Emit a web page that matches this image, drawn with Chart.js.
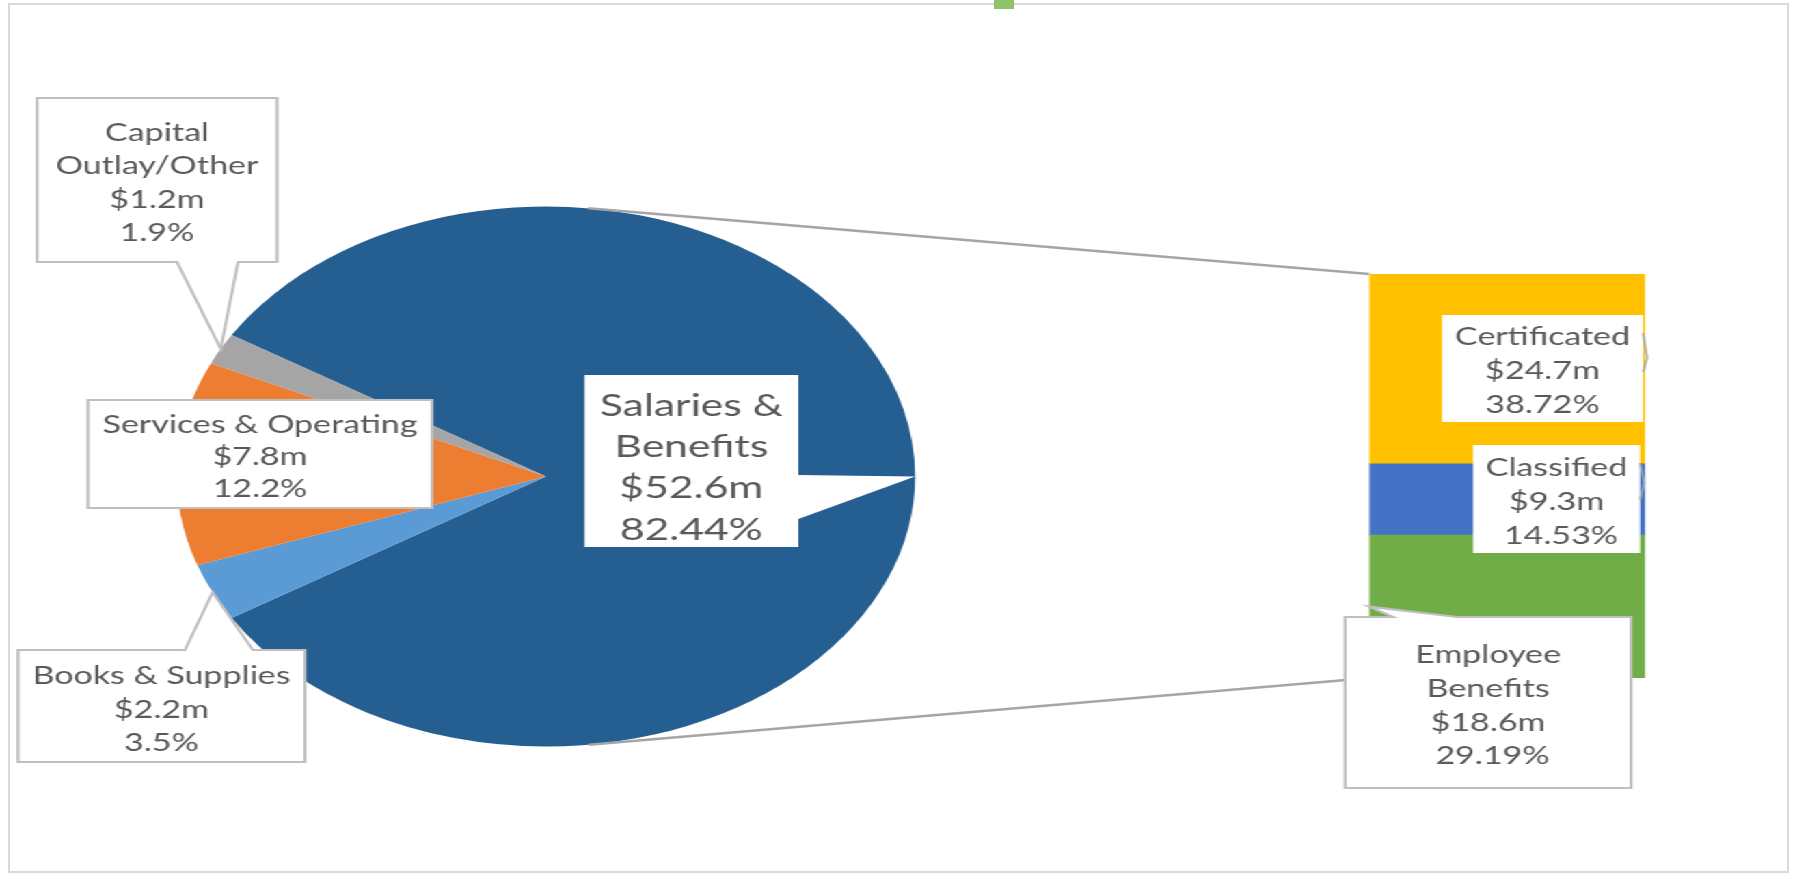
<!DOCTYPE html>
<html><head><meta charset="utf-8">
<script src="https://cdn.jsdelivr.net/npm/chart.js@4.4.0/dist/chart.umd.min.js"></script>
<style>
html,body{margin:0;padding:0;background:#fff;overflow:hidden;width:1795px;height:877px;}
#frame{position:absolute;left:8px;top:3px;width:1777px;height:866px;border:2px solid #D9D9D9;}
#tab{position:absolute;left:994px;top:0;width:20px;height:9px;background:#8FC46B;}
#stage{position:absolute;left:0;top:0;width:1313px;height:877px;transform:scaleX(1.3671);transform-origin:0 0;}
#stage canvas{position:absolute;left:0;top:0;}
</style></head><body>
<div id="frame"></div><div id="tab"></div>
<div id="stage"><canvas id="pie" width="1313" height="877"></canvas><canvas id="bar" width="1313" height="877"></canvas></div>
<script>
// ---- data ----
const pieCategories = ['Salaries & Benefits', 'Books & Supplies', 'Services & Operating', 'Capital Outlay/Other'];
const pieNameLines = [['Salaries &', 'Benefits'], ['Books & Supplies'], ['Services & Operating'], ['Capital', 'Outlay/Other']];
const pieValues = [52.6, 2.2, 7.8, 1.2];           // $ millions
const piePercents = ['82.44%', '3.5%', '12.2%', '1.9%'];
const pieColors = ['#255E91', '#5B9BD5', '#ED7D31', '#A5A5A5'];

const barCategories = ['Employee Benefits', 'Classified', 'Certificated'];   // bottom -> top
const barNameLines = [['Employee', 'Benefits'], ['Classified'], ['Certificated']];
const barValues = [18.6, 9.3, 24.7];               // $ millions (split of Salaries & Benefits)
const barPercents = [' 29.19%', ' 14.53%', '38.72%'];
const barColors = ['#70AD47', '#4472C4', '#FFC000'];

// ---- layout (design space, x is stretched by CSS) ----
const FONT = 'Lato, Carlito, "Open Sans", sans-serif';
const TEXT = '#595959';
const pieBoxes = [
  {x:427.5, y:375, w:156.5, h:172, big:true, first:405, step:41.2, pointer:'right', pT:475, pB:519, border:false},
  {x:13.2, y:650, w:209.9, h:112, first:675, step:33.5, pointer:'top', bL:135.3, bR:185, border:true},
  {x:64.4, y:400, w:251.6, h:108, first:424, step:32, pointer:null, border:true},
  {x:27.1, y:98, w:175.5, h:164, first:132, step:33.4, pointer:'bottom', bL:129.5, bR:174.1, border:true}
];
const barBoxes = [
  {x:983.9, y:617, w:209.2, h:171, first:654.3, step:33.6, pointer:'top', bL:1019, bR:1066, border:true},
  {x:1077.5, y:445, w:122.2, h:108, first:467.3, step:34, pointer:'tick', t0:18, t1:55, tm:38, border:false},
  {x:1054.8, y:315, w:147.1, h:107, first:335.8, step:34, pointer:'tick', t0:18, t1:57, tm:43, border:false}
];

const money = v => '$' + v.toFixed(1) + 'm';
const sum = a => a.reduce((s, v) => s + v, 0);

let smallSize = 27, bigSize = 32;
(function fitFonts(){
  const c = document.createElement('canvas').getContext('2d');
  c.font = '100px ' + FONT;
  smallSize = 100 * 230.4 / c.measureText('Services & Operating').width;
  bigSize = 100 * 134 / c.measureText('Salaries &').width;
})();

function drawCallout(ctx, b, lines, tip){
  const x = b.x, y = b.y, x1 = b.x + b.w, y1 = b.y + b.h;
  ctx.save();
  ctx.beginPath();
  ctx.moveTo(x, y);
  if (b.pointer === 'top') { ctx.lineTo(b.bL, y); ctx.lineTo(tip.x, tip.y); ctx.lineTo(b.bR, y); }
  ctx.lineTo(x1, y);
  if (b.pointer === 'right') { ctx.lineTo(x1, b.pT); ctx.lineTo(tip.x, tip.y); ctx.lineTo(x1, b.pB); }
  ctx.lineTo(x1, y1);
  if (b.pointer === 'bottom') { ctx.lineTo(b.bR, y1); ctx.lineTo(tip.x, tip.y); ctx.lineTo(b.bL, y1); }
  ctx.lineTo(x, y1);
  ctx.closePath();
  ctx.fillStyle = '#FFFFFF';
  ctx.fill();
  if (b.border) { ctx.strokeStyle = '#BFBFBF'; ctx.lineWidth = 2.2; ctx.lineJoin = 'miter'; ctx.stroke(); }
  if (b.pointer === 'tick') {
    ctx.beginPath();
    ctx.moveTo(x1, y + b.t0); ctx.lineTo(x1 + 3, y + b.tm); ctx.lineTo(x1, y + b.t1);
    ctx.strokeStyle = '#A6A6A6'; ctx.lineWidth = 1.5; ctx.stroke();
  }
  const size = b.big ? bigSize : smallSize;
  ctx.font = size.toFixed(2) + 'px ' + FONT;
  ctx.fillStyle = TEXT;
  ctx.textAlign = 'center';
  ctx.textBaseline = 'alphabetic';
  const capH = ctx.measureText('H').actualBoundingBoxAscent;
  const cx = b.x + b.w / 2;
  lines.forEach((t, i) => ctx.fillText(t, cx, b.first + i * b.step + capH / 2));
  ctx.restore();
}

const pieLabelPlugin = {
  id: 'pieLabels',
  afterDraw(chart){
    const ctx = chart.ctx;
    chart.getDatasetMeta(0).data.forEach((arc, i) => {
      const p = arc.getProps(['x', 'y', 'startAngle', 'endAngle', 'outerRadius'], true);
      const mid = (p.startAngle + p.endAngle) / 2;
      const tip = {x: p.x + p.outerRadius * Math.cos(mid), y: p.y + p.outerRadius * Math.sin(mid)};
      drawCallout(ctx, pieBoxes[i], [...pieNameLines[i], money(pieValues[i]), piePercents[i]], tip);
    });
  }
};

const total = sum(pieValues);
const pieChart = new Chart(document.getElementById('pie'), {
  type: 'pie',
  data: {labels: pieCategories, datasets: [{data: pieValues, backgroundColor: pieColors, borderWidth: 0, hoverOffset: 0, offset: 0}]},
  options: {
    responsive: false, animation: false, events: [],
    rotation: 90 - 180 * pieValues[0] / total,
    layout: {padding: {left: 129.4, right: 643.6, top: 206.5, bottom: 130.5}},
    plugins: {legend: {display: false}, tooltip: {enabled: false}}
  },
  plugins: [pieLabelPlugin]
});

const barLabelPlugin = {
  id: 'barLabels',
  afterDraw(chart){
    const ctx = chart.ctx;
    const els = chart.data.datasets.map((d, i) => chart.getDatasetMeta(i).data[0].getProps(['x', 'y', 'base', 'width'], true));
    const left = els[0].x - els[0].width / 2;
    const topY = Math.min(...els.map(e => e.y));
    const botY = Math.max(...els.map(e => e.base));
    // connector lines: tangents from bar corners to the pie
    const arc = pieChart.getDatasetMeta(0).data[0].getProps(['x', 'y', 'outerRadius'], true);
    const tangent = (px, py, sign) => {
      const dx = px - arc.x, dy = py - arc.y, d = Math.hypot(dx, dy);
      const a = Math.atan2(dy, dx) + sign * Math.acos(arc.outerRadius / d);
      return {x: arc.x + arc.outerRadius * Math.cos(a), y: arc.y + arc.outerRadius * Math.sin(a)};
    };
    const t1 = tangent(left, topY, -1), t2 = tangent(left, botY, 1);
    ctx.save();
    ctx.strokeStyle = '#A5A5A5'; ctx.lineWidth = 2.6;
    ctx.beginPath(); ctx.moveTo(t1.x, t1.y); ctx.lineTo(left, topY); ctx.stroke();
    ctx.beginPath(); ctx.moveTo(t2.x, t2.y); ctx.lineTo(left, botY); ctx.stroke();
    ctx.restore();
    els.forEach((e, i) => {
      const tip = {x: e.x - e.width / 2, y: (e.y + e.base) / 2};
      drawCallout(ctx, barBoxes[i], [...barNameLines[i], money(barValues[i]), barPercents[i]], tip);
    });
  }
};

new Chart(document.getElementById('bar'), {
  type: 'bar',
  data: {
    labels: ['Salaries & Benefits'],
    datasets: barCategories.map((name, i) => ({label: name, data: [barValues[i]], backgroundColor: barColors[i], borderWidth: 0, barPercentage: 1, categoryPercentage: 1}))
  },
  options: {
    responsive: false, animation: false, events: [],
    layout: {padding: {left: 1001.5, right: 109.6, top: 274, bottom: 199}},
    scales: {
      x: {display: false, stacked: true},
      y: {display: false, stacked: true, min: 0, max: sum(barValues)}
    },
    plugins: {legend: {display: false}, tooltip: {enabled: false}}
  },
  plugins: [barLabelPlugin]
});
</script>
</body></html>
